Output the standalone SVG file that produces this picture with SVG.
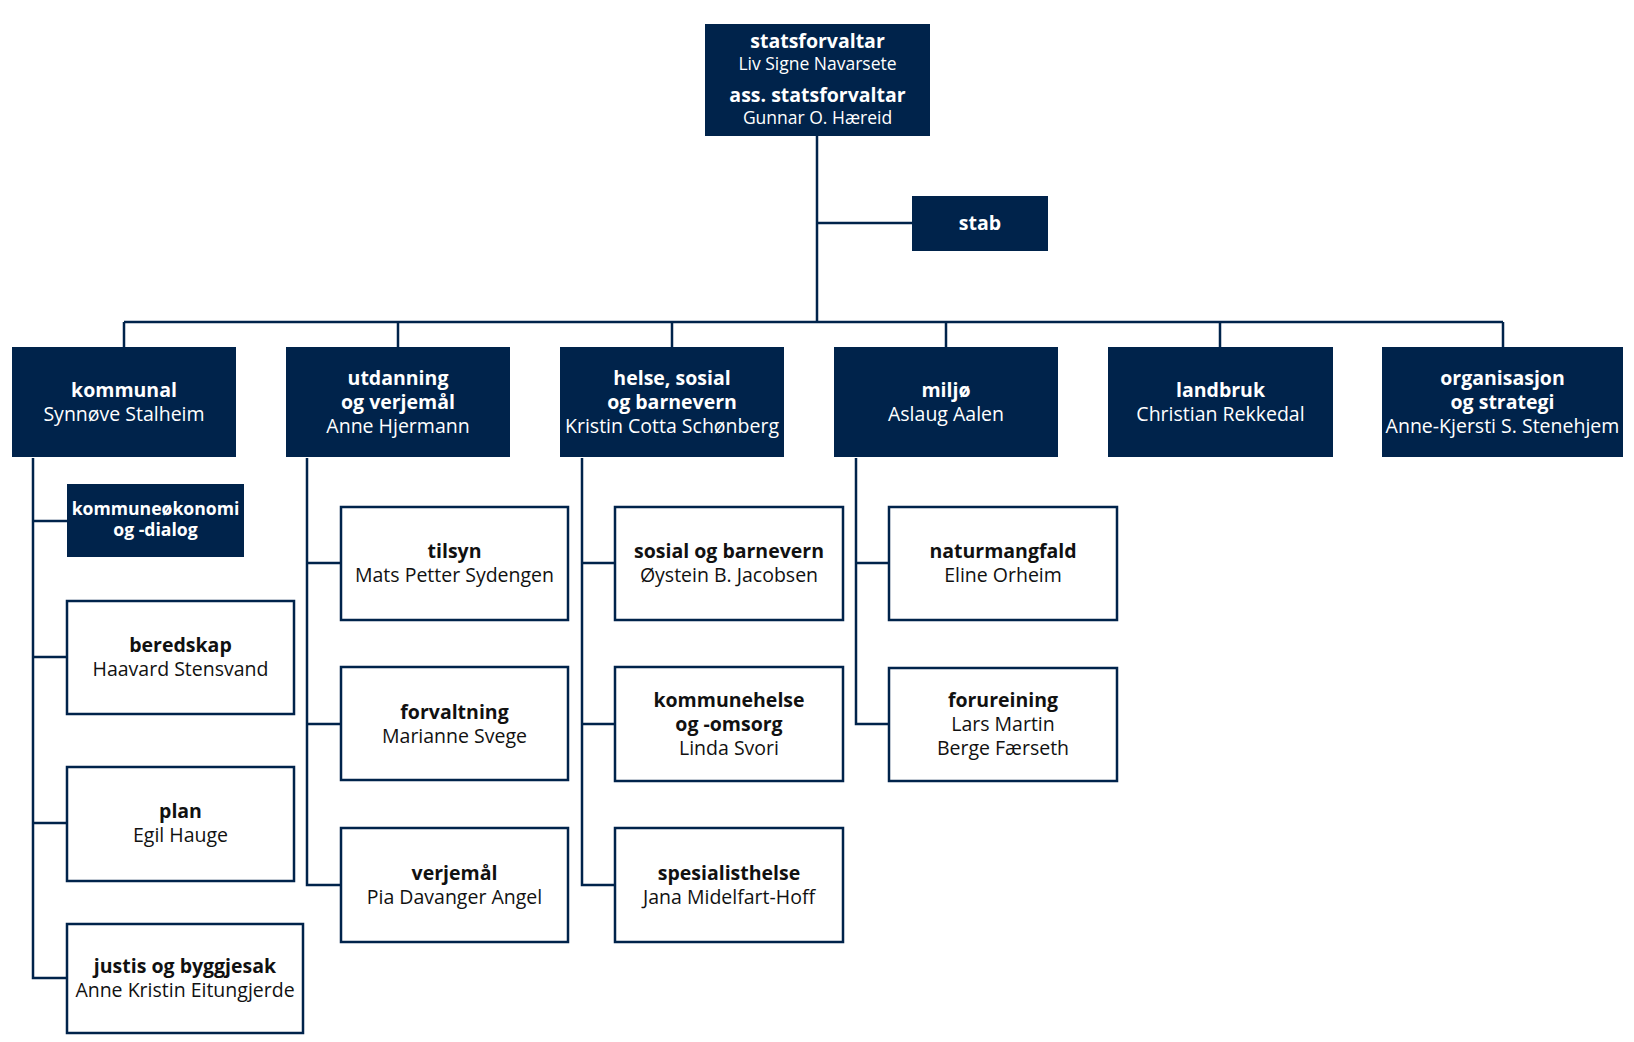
<svg xmlns="http://www.w3.org/2000/svg" width="1634" height="1042" viewBox="0 0 1634 1042">
<style>
.dark{fill:#00234b;}
.light{fill:#ffffff;stroke:#00234b;stroke-width:2.5;}
text{font-family:"Open Sans","Noto Sans","DejaVu Sans",sans-serif;text-anchor:middle;font-size:19.5px;}
.w{fill:#ffffff;}
.k{fill:#111111;}
.b{font-weight:bold;}
.sm{font-size:17.5px;}
.ss{font-size:17.6px;}
.con{fill:none;stroke:#00234b;stroke-width:2.5;}
</style>
<rect width="1634" height="1042" fill="#ffffff"/>
<g id="connectors">
<path class="con" d="M817,136 V322 M817,223 H912 M124,322 H1503 M124,322 V347 M398,322 V347 M672,322 V347 M946,322 V347 M1220,322 V347 M1503,322 V347"/>
<path class="con" d="M33,458 V978 H67 M33,521 H67 M33,657 H67 M33,823 H67"/>
<path class="con" d="M307,458 V885 H341 M307,563 H341 M307,724 H341"/>
<path class="con" d="M582,458 V885 H615 M582,563 H615 M582,724 H615"/>
<path class="con" d="M856,458 V724 H889 M856,563 H889"/>
</g>
<g id="statsforvaltar">
<rect class="dark" x="705" y="24" width="225" height="112"/>
<text class="w b" x="817.5" y="48">statsforvaltar</text>
<text class="w sm" x="817.5" y="70">Liv Signe Navarsete</text>
<text class="w b" x="817.5" y="102">ass. statsforvaltar</text>
<text class="w sm" x="817.5" y="124">Gunnar O. Hæreid</text>
</g>
<g id="stab">
<rect class="dark" x="912" y="196" width="136" height="55"/>
<text class="w b" x="980" y="230">stab</text>
</g>
<g id="kommunal">
<rect class="dark" x="12" y="347" width="224" height="110"/>
<text class="w b" x="124" y="397">kommunal</text>
<text class="w" x="124" y="421">Synnøve Stalheim</text>
</g>
<g id="utdanning">
<rect class="dark" x="286" y="347" width="224" height="110"/>
<text class="w b" x="398" y="385">utdanning</text>
<text class="w b" x="398" y="409">og verjemål</text>
<text class="w" x="398" y="433">Anne Hjermann</text>
</g>
<g id="helse">
<rect class="dark" x="560" y="347" width="224" height="110"/>
<text class="w b" x="672" y="385">helse, sosial</text>
<text class="w b" x="672" y="409">og barnevern</text>
<text class="w" x="672" y="433">Kristin Cotta Schønberg</text>
</g>
<g id="miljo">
<rect class="dark" x="834" y="347" width="224" height="110"/>
<text class="w b" x="946" y="397">miljø</text>
<text class="w" x="946" y="421">Aslaug Aalen</text>
</g>
<g id="landbruk">
<rect class="dark" x="1108" y="347" width="225" height="110"/>
<text class="w b" x="1220.5" y="397">landbruk</text>
<text class="w" x="1220.5" y="421">Christian Rekkedal</text>
</g>
<g id="organisasjon">
<rect class="dark" x="1382" y="347" width="241" height="110"/>
<text class="w b" x="1502.5" y="385">organisasjon</text>
<text class="w b" x="1502.5" y="409">og strategi</text>
<text class="w" x="1502.5" y="433">Anne-Kjersti S. Stenehjem</text>
</g>
<g id="kommuneokonomi">
<rect class="dark" x="67" y="484" width="177" height="73"/>
<text class="w b ss" x="155.5" y="515">kommuneøkonomi</text>
<text class="w b ss" x="155.5" y="536">og -dialog</text>
</g>
<g id="beredskap">
<rect class="light" x="67" y="601" width="227" height="113"/>
<text class="k b" x="180.5" y="652">beredskap</text>
<text class="k" x="180.5" y="676">Haavard Stensvand</text>
</g>
<g id="plan">
<rect class="light" x="67" y="767" width="227" height="114"/>
<text class="k b" x="180.5" y="818">plan</text>
<text class="k" x="180.5" y="842">Egil Hauge</text>
</g>
<g id="justis">
<rect class="light" x="67" y="924" width="236" height="109"/>
<text class="k b" x="185" y="973">justis og byggjesak</text>
<text class="k" x="185" y="997">Anne Kristin Eitungjerde</text>
</g>
<g id="tilsyn">
<rect class="light" x="341" y="507" width="227" height="113"/>
<text class="k b" x="454.5" y="558">tilsyn</text>
<text class="k" x="454.5" y="582">Mats Petter Sydengen</text>
</g>
<g id="forvaltning">
<rect class="light" x="341" y="667" width="227" height="113"/>
<text class="k b" x="454.5" y="719">forvaltning</text>
<text class="k" x="454.5" y="743">Marianne Svege</text>
</g>
<g id="verjemal">
<rect class="light" x="341" y="828" width="227" height="114"/>
<text class="k b" x="454.5" y="880">verjemål</text>
<text class="k" x="454.5" y="904">Pia Davanger Angel</text>
</g>
<g id="sosial">
<rect class="light" x="615" y="507" width="228" height="113"/>
<text class="k b" x="729" y="558">sosial og barnevern</text>
<text class="k" x="729" y="582">Øystein B. Jacobsen</text>
</g>
<g id="kommunehelse">
<rect class="light" x="615" y="667" width="228" height="114"/>
<text class="k b" x="729" y="707">kommunehelse</text>
<text class="k b" x="729" y="731">og -omsorg</text>
<text class="k" x="729" y="755">Linda Svori</text>
</g>
<g id="spesialisthelse">
<rect class="light" x="615" y="828" width="228" height="114"/>
<text class="k b" x="729" y="880">spesialisthelse</text>
<text class="k" x="729" y="904">Jana Midelfart-Hoff</text>
</g>
<g id="naturmangfald">
<rect class="light" x="889" y="507" width="228" height="113"/>
<text class="k b" x="1003" y="558">naturmangfald</text>
<text class="k" x="1003" y="582">Eline Orheim</text>
</g>
<g id="forureining">
<rect class="light" x="889" y="668" width="228" height="113"/>
<text class="k b" x="1003" y="707">forureining</text>
<text class="k" x="1003" y="731">Lars Martin</text>
<text class="k" x="1003" y="755">Berge Færseth</text>
</g>
</svg>
